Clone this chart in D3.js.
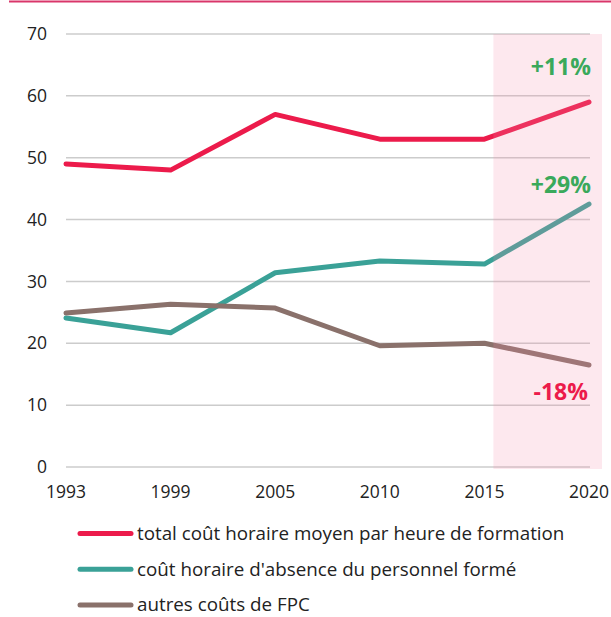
<!DOCTYPE html>
<html><head><meta charset="utf-8">
<script src="https://cdn.jsdelivr.net/npm/d3@7"></script>
<style>body{margin:0;background:#fff;} svg{display:block;font-family:"Open Sans","Noto Sans",sans-serif;}</style>
</head><body><svg id="c" width="611" height="617"></svg>
<script>
const years = ["1993","1999","2005","2010","2015","2020"];
const totalCost = [49, 48, 57, 53, 53, 59];
const absenceCost = [24.1, 21.7, 31.4, 33.3, 32.8, 42.5];
const otherCost = [24.9, 26.3, 25.7, 19.6, 20.0, 16.5];
const yTicks = [0,10,20,30,40,50,60,70];
const seriesNames = ["total coût horaire moyen par heure de formation","coût horaire d'absence du personnel formé","autres coûts de FPC"];
const seriesColors = ["#ec1b4b","#3aa197","#8a716b"];
const changeLabels = ["+11%","+29%","-18%"];
const changeColors = ["#3aa95b","#3aa95b","#ec1b4b"];
const highlightFrom = "2015";

const svg = d3.select("#c");
const x = d3.scalePoint().domain(years).range([66, 589]);
const y = d3.scaleLinear().domain([0,70]).range([467, 34]);

// top rule
svg.append("line").attr("x1",9).attr("x2",611).attr("y1",1.5).attr("y2",1.5)
  .attr("stroke","#d9366a").attr("stroke-width",2);

// grid
svg.append("g").selectAll("line").data(yTicks).join("line")
  .attr("x1",66).attr("x2",590).attr("y1",d=>y(d)).attr("y2",d=>y(d))
  .attr("stroke","#cccccc").attr("stroke-width",1.5);

// y labels
svg.append("g").selectAll("text").data(yTicks).join("text")
  .attr("x",47).attr("y",d=>y(d)).attr("dy","0.35em").attr("text-anchor","end")
  .attr("font-size",17.5).attr("fill","#222").text(d=>d);

// x labels
svg.append("g").selectAll("text").data(years).join("text")
  .attr("x",d=>x(d)).attr("y",498).attr("text-anchor","middle")
  .attr("font-size",17.5).attr("fill","#222").text(d=>d);

const series = [totalCost, absenceCost, otherCost];
const line = d3.line().x((d,i)=>x(years[i])).y(d=>y(d));
series.forEach((s,k)=>{
  svg.append("path").datum(s).attr("d",line).attr("fill","none")
    .attr("stroke",seriesColors[k]).attr("stroke-width",5)
    .attr("stroke-linejoin","round").attr("stroke-linecap","round");
});

// highlight band (overlay)
const bx = x(highlightFrom) + 9;
svg.append("rect").attr("x",bx).attr("y",y(70)).attr("width",602-bx).attr("height",y(0)-y(70)+2)
  .attr("fill","rgb(245,140,170)").attr("fill-opacity",0.2);

// change labels
svg.append("g").selectAll("text").data(changeLabels).join("text")
  .attr("x",(d,i)=> i===2 ? 588 : 591)
  .attr("y",(d,i)=>[75,193,400][i])
  .attr("text-anchor","end").attr("font-size",23).attr("font-weight","bold")
  .attr("fill",(d,i)=>changeColors[i]).text(d=>d);

// legend
const lg = svg.append("g").selectAll("g").data(seriesNames).join("g")
  .attr("transform",(d,i)=>`translate(0,${533.5+i*35.7})`);
lg.append("line").attr("x1",80).attr("x2",131).attr("y1",0).attr("y2",0)
  .attr("stroke",(d,i)=>seriesColors[i]).attr("stroke-width",5).attr("stroke-linecap","round");
lg.append("text").attr("x",137).attr("y",0).attr("dy","0.35em")
  .attr("font-size",18.8).attr("fill","#222").text(d=>d);
</script></body></html>
